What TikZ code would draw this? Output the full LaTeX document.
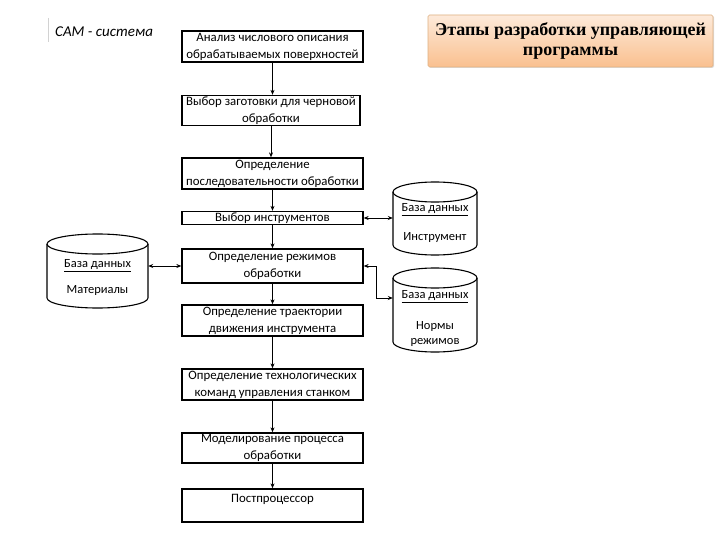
\documentclass[tikz,border=0pt]{standalone}
\usepackage{fontspec}
\setmainfont{Carlito}
\newfontfamily\titlefont{Liberation Serif}
\usetikzlibrary{arrows.meta,calc,shadows}
\begin{document}
\begin{tikzpicture}[x=1pt,y=-1pt,
  stepbox/.style={draw,line width=1.3pt,inner sep=0pt,align=center,font=\fontsize{12.8}{17}\selectfont},
  flow/.style={-{Stealth[length=5pt,width=4pt]},line width=0.8pt},
  both/.style={{Stealth[length=5pt,width=4pt]}-{Stealth[length=5pt,width=4pt]},line width=0.7pt},
  cyl/.style={line width=1.1pt},
  cyltext/.style={font=\fontsize{12.5}{14}\selectfont,inner sep=0pt}]
\useasboundingbox[fill=white] (0,0) rectangle (720,540);

% title
\node[draw={rgb,255:red,222;green,176;blue,130},line width=0.6pt,rounded corners=1.5pt,
  top color={rgb,255:red,253;green,234;blue,218},bottom color={rgb,255:red,250;green,192;blue,143},
  drop shadow={opacity=0.25,shadow xshift=1pt,shadow yshift=-1pt},
  minimum width=285,minimum height=52,inner sep=0pt,align=center,
  font=\titlefont\bfseries\fontsize{18}{20.5}\selectfont] (title) at (570.5,41) {Этапы разработки управляющей\\программы};

% CAM label
\draw[gray!35,line width=0.8pt] (48,18) coordinate (vl1) -- (48,42) coordinate (vl2);
\node[anchor=west,inner sep=0pt,font=\itshape\fontsize{15}{18}\selectfont] (cam) at (55,32) {CAM - система};

% steps
\node[stepbox,minimum width=181,minimum height=31] (b1) at (272.5,46.5) {Анализ числового описания\\обрабатываемых поверхностей};
\node[stepbox,minimum width=178,minimum height=30] (b2) at (271,110.5) {Выбор заготовки для черновой\\обработки};
\node[stepbox,minimum width=181,minimum height=31] (b3) at (272.5,173.5) {Определение\\последовательности обработки};
\node[stepbox,minimum width=181,minimum height=13] (b4) at (272.5,218) {Выбор инструментов};
\node[stepbox,minimum width=181,minimum height=34] (b5) at (272.5,266) {Определение режимов\\обработки};
\node[stepbox,minimum width=181,minimum height=31] (b6) at (272.5,320.5) {Определение траектории\\движения инструмента};
\node[stepbox,minimum width=181,minimum height=31] (b7) at (272.5,384.5) {Определение технологических\\команд управления станком};
\node[stepbox,minimum width=181,minimum height=30] (b8) at (272.5,448) {Моделирование процесса\\обработки};
\node[stepbox,minimum width=181,minimum height=33,text depth=14pt] (b9) at (272.5,505.5) {Постпроцессор};

% vertical arrows
\draw[flow] (b1.south) -- (b1.south |- b2.north);
\draw[flow] (b2.south) -- (b2.south |- b3.north);
\draw[flow,line width=1.3pt] (b3.south) -- (b3.south |- b4.north);
\draw[flow] (b4.south) -- (b4.south |- b5.north);
\draw[flow,line width=1.3pt] (b5.south) -- (b5.south |- b6.north);
\draw[flow] (b6.south) -- (b6.south |- b7.north);
\draw[flow] (b7.south) -- (b7.south |- b8.north);
\draw[flow] (b8.south) -- (b8.south |- b9.north);

% databases (cylinders)
% Materials: x 47..148, y 233..308
\draw[cyl] (47,244) -- (47,298) arc[start angle=180,end angle=360,x radius=50.5pt,y radius=10pt] -- (148,244);
\draw[cyl] (97.5,244) ellipse [x radius=50.5pt,y radius=10pt];
\node[minimum width=101,minimum height=75,inner sep=0pt] (mat) at (97.5,270.5) {};
\node[cyltext] (matdb) at (97.5,266) {\underline{База данных}};
\node[cyltext] (matname) at (97.5,290) {Материалы};

% Instrument: x 393..477, y 182..255
\draw[cyl] (393,192) -- (393,245) arc[start angle=180,end angle=360,x radius=42pt,y radius=10pt] -- (477,192);
\draw[cyl] (435,192) ellipse [x radius=42pt,y radius=10pt];
\node[minimum width=84,minimum height=73,inner sep=0pt] (ins) at (435,218.5) {};
\node[cyltext] (insdb) at (435,210) {\underline{База данных}};
\node[cyltext] (insname) at (435,237) {Инструмент};

% Norms: x 393..477, y 268..352
\draw[cyl] (393,278) -- (393,342) arc[start angle=180,end angle=360,x radius=42pt,y radius=10pt] -- (477,278);
\draw[cyl] (435,278) ellipse [x radius=42pt,y radius=10pt];
\node[minimum width=84,minimum height=84,inner sep=0pt] (nrm) at (435,310) {};
\node[cyltext] (nrmdb) at (435,297) {\underline{База данных}};
\node[cyltext] (nrmname) at (435,326) {Нормы};
\node[cyltext] (nrmname2) at (435,342) {режимов};

% double arrows
\draw[both] (mat.east |- b5.west) -- (b5.west);
\draw[both] (b4.east) -- (ins.west |- b4.east);
\coordinate (bend) at (376,298);
\draw[both] (b5.east) -| (bend) -- (nrm.west |- bend);
\end{tikzpicture}
\end{document}
